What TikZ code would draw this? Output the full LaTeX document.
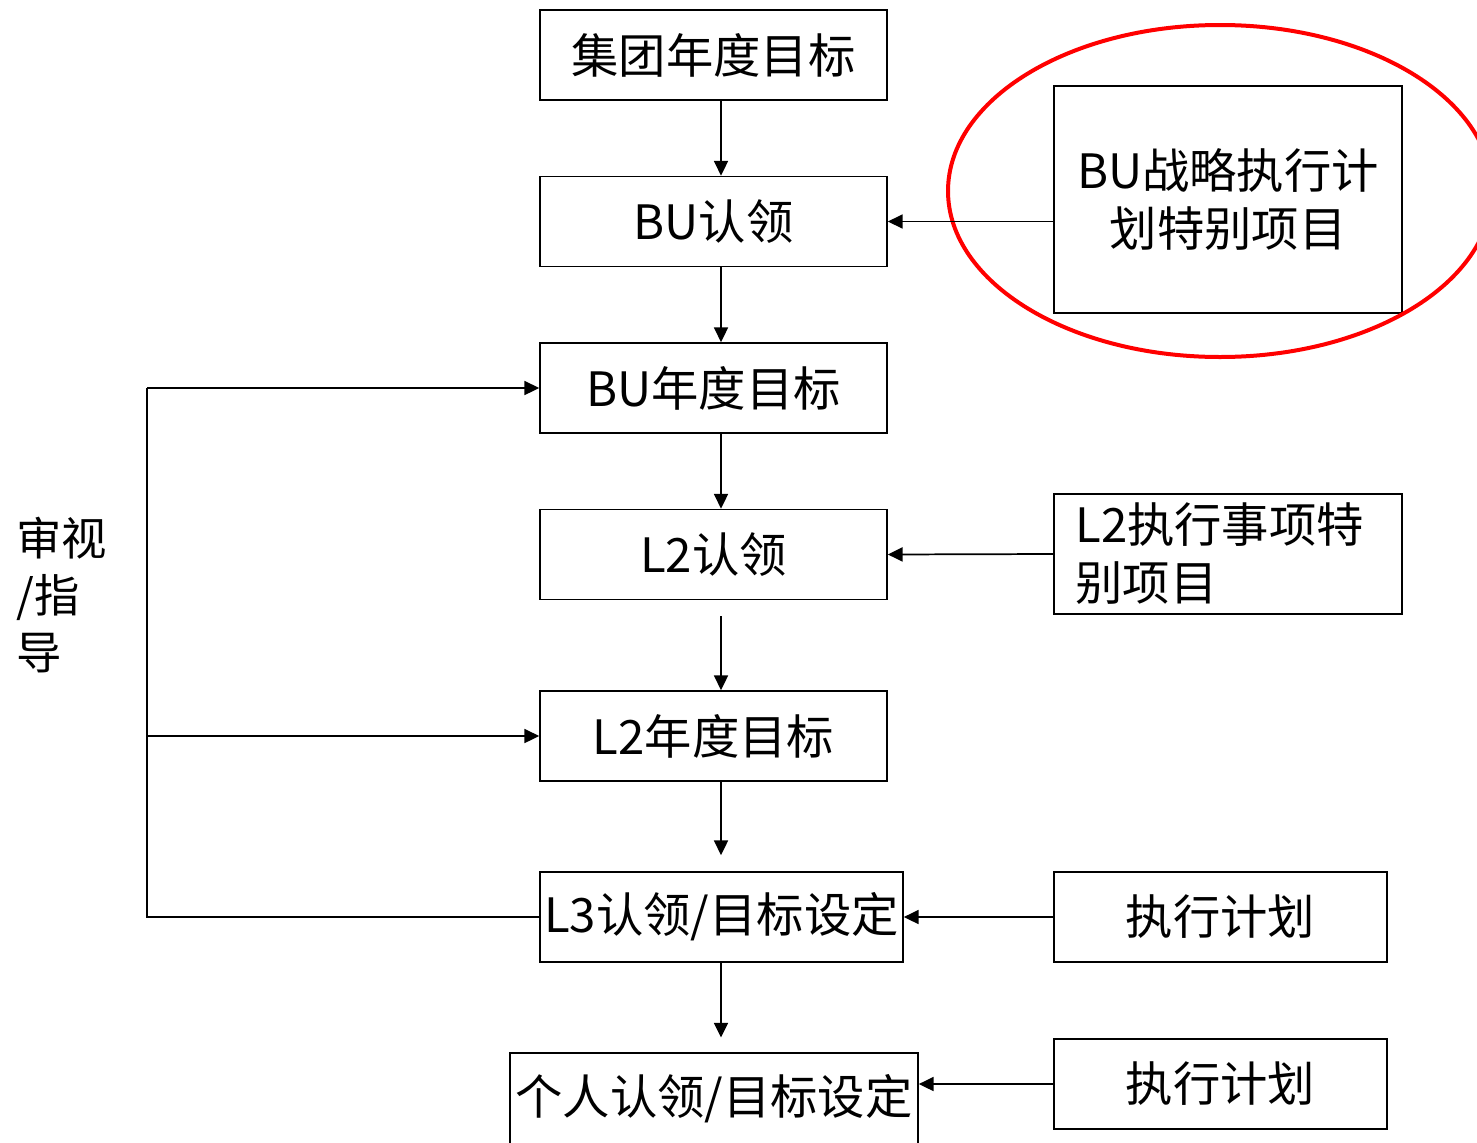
\documentclass[tikz,border=0pt]{standalone}
\usepackage{fontspec}
\setmainfont{Noto Sans CJK SC}
\usetikzlibrary{arrows.meta}
\begin{document}
\begin{tikzpicture}[x=0.75pt,y=-0.75pt,
  box/.style={draw=black,line width=1.3pt,inner sep=0pt,align=center,
    font=\fontsize{35.5pt}{43.5pt}\selectfont,text=black},
  conn/.style={draw=black,line width=1.3pt},
  arr/.style={conn,-{Triangle[length=11pt,width=10.5pt]}}]
\useasboundingbox (0,0) rectangle (1477,1142);
\fill[white] (0,0) rectangle (1477,1142);
% left column
\node[box,minimum width=260.25pt,minimum height=67.5pt] (n1) at (713.5,55) {\raisebox{-2pt}{集团年度目标}};
\node[box,minimum width=260.25pt,minimum height=67.5pt] (n2) at (713.5,221.5) {\raisebox{-2pt}{BU认领}};
\node[box,minimum width=260.25pt,minimum height=67.5pt] (n3) at (713.5,388) {\raisebox{-2pt}{BU年度目标}};
\node[box,minimum width=260.25pt,minimum height=67.5pt] (n4) at (713.5,554.5) {\raisebox{-2pt}{L2认领}};
\node[box,minimum width=260.25pt,minimum height=67.5pt] (n5) at (713.5,736) {\raisebox{-2pt}{L2年度目标}};
\node[box,minimum width=272.25pt,minimum height=67.5pt] (n6) at (721.5,917) {\raisebox{-2pt}{L3认领/目标设定}};
\node[box,minimum width=306pt,minimum height=69pt] (n7) at (714,1099) {\raisebox{-2pt}{个人认领/目标设定}};
% right column
\node[box,minimum width=261pt,minimum height=170.25pt] (r1) at (1228,199.5) {BU战略执行计\\划特别项目};
\node[box,minimum width=261pt,minimum height=90pt,align=left,text width=229pt,inner xsep=16pt] (r2) at (1228,554) {L2执行事项特\\别项目};
\node[box,minimum width=249.75pt,minimum height=67.5pt] (r3) at (1220.5,917) {\raisebox{-2pt}{执行计划}};
\node[box,minimum width=249.75pt,minimum height=67.5pt] (r4) at (1220.5,1084) {\raisebox{-2pt}{执行计划}};
% left label
\node[inner sep=0pt,anchor=west,align=left,font=\fontsize{34pt}{43pt}\selectfont] (lab) at (16,595) {审视\\/指\\导};
% red ellipse
\draw[red,line width=3pt] (1220,191) ellipse [x radius=204pt,y radius=124.5pt];
% vertical arrows
\coordinate (ax) at (721,0);
\draw[arr] (n1.south -| ax) -- (n2.north -| ax);
\draw[arr] (n2.south -| ax) -- (n3.north -| ax);
\draw[arr] (n3.south -| ax) -- (n4.north -| ax);
\draw[arr] ([yshift=-12pt]n4.south -| ax) -- (n5.north -| ax);
\draw[arr] (n5.south -| ax) -- ([yshift=12pt]n6.north -| ax);
\draw[arr] (n6.south -| ax) -- ([yshift=11pt]n7.north -| ax);
% horizontal arrows from right
\draw[arr] (r1.west |- n2.east) -- (n2.east);
\draw[arr] (r2.west) -- (n4.east);
\draw[arr] (r3.west) -- (n6.east);
\draw[arr] (r4.west) -- (n7.east |- r4.west);
% left bracket
\coordinate (lx) at (147,0);
\draw[conn] (n6.west) -- (n6.west -| lx) -- (n3.west -| lx);
\draw[arr] (n3.west -| lx) -- (n3.west);
\draw[arr] (n5.west -| lx) -- (n5.west);
\end{tikzpicture}
\end{document}
